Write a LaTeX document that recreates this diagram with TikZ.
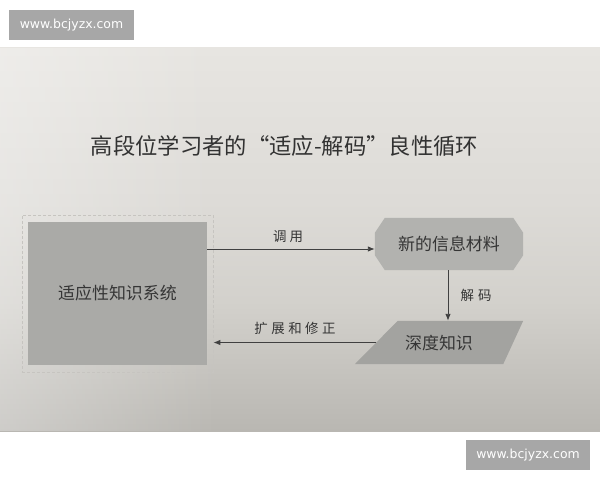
\documentclass[tikz,border=0pt]{standalone}
\usepackage{fontspec}
\newfontfamily\cjk{Noto Sans CJK SC}
\newfontfamily\wmfont{DejaVu Sans}
\usetikzlibrary{calc,arrows.meta,fadings}
\definecolor{photoTop}{HTML}{E7E5E1}
\definecolor{photoA}{HTML}{DDDBD7}
\definecolor{photoB}{HTML}{D3D1CC}
\definecolor{photoC}{HTML}{C3C1BC}
\definecolor{photoBot}{HTML}{B9B7B2}
\definecolor{boxA}{HTML}{AAAAA7}
\definecolor{boxB}{HTML}{B2B2AF}
\definecolor{boxC}{HTML}{A3A3A0}
\definecolor{ink}{HTML}{353535}
\definecolor{lineC}{HTML}{404040}
\definecolor{frameC}{HTML}{C6C4C0}
\definecolor{wmC}{HTML}{A7A7A7}
\pgfdeclareverticalshading{photoshade}{100bp}{color(0bp)=(photoBot); color(25bp)=(photoBot); color(31.5bp)=(photoC); color(42bp)=(photoB); color(55bp)=(photoA); color(75bp)=(photoTop); color(100bp)=(photoTop)}
\begin{document}
\begin{tikzpicture}[x=1bp,y=-1bp,
  wm/.style={fill=wmC, text=white, minimum width=124bp, minimum height=30bp, inner sep=0pt, font=\wmfont\fontsize{12.5}{14}\selectfont},
  blk/.style={inner sep=0pt, text=ink, font=\cjk\fontsize{17}{20}\selectfont},
  lbl/.style={inner sep=0pt, text=ink, font=\cjk\fontsize{13.5}{16}\selectfont},
  arr/.style={draw=lineC, line width=0.9bp, -{Latex[length=7bp,width=5.5bp]}}]
\useasboundingbox (0,0) rectangle (600,480);
\fill[white] (0,0) rectangle (600,480);
% photo of the page
\shade[shading=photoshade] (0,48) rectangle (600,431);
\fill[white, path fading=east, fill opacity=0.3] (0,48) rectangle (220,431);
% watermarks
\node[wm] (wm1) at (71.5,25) {www.bcjyzx.com};
\node[wm] (wm2) at (528,455) {www.bcjyzx.com};
% title
\node[inner sep=0pt, text=ink!95!black, font=\cjk\fontsize{22.4}{26}\selectfont] (title) at (284.5,146) {高段位学习者的“适应-解码”良性循环};
% left system
\node[draw=frameC, dash pattern=on 3bp off 2bp, line width=0.8bp, minimum width=191bp, minimum height=157bp, inner sep=0pt] (frame) at (117.5,293.5) {};
\node[blk, fill=boxA, minimum width=179bp, minimum height=143bp] (sys) at (117.5,293.5) {适应性知识系统};
% octagon: new information
\node[blk, minimum width=148bp, minimum height=52bp] (info) at (449,244) {};
\fill[boxB] ($(info.north west)+(10,0)$) -- ($(info.north east)+(-10,0)$) -- ($(info.north east)+(0,15)$) -- ($(info.south east)+(0,-15)$) -- ($(info.south east)+(-10,0)$) -- ($(info.south west)+(10,0)$) -- ($(info.south west)+(0,-15)$) -- ($(info.north west)+(0,15)$) -- cycle;
\node[blk] (infotext) at (info.center) {新的信息材料};
% parallelogram: deep knowledge
\node[blk, minimum width=168bp, minimum height=43bp] (deep) at (439,342.5) {};
\fill[boxC] ($(deep.north west)+(43,0)$) -- (deep.north east) -- ($(deep.south east)+(-20,0)$) -- (deep.south west) -- cycle;
\node[blk] (deeptext) at (439,343) {深度知识};
% connectors
\draw[arr] ($(sys.east)+(0,-44.5)$) -- ($(info.west)+(0,5)$);
\draw[arr] ($(info.south)+(-1,0)$) -- ($(info.south |- deep.north)+(-1,0)$);
\coordinate (d1) at ($(deep.west)+(21.5,0)$);
\draw[arr] (d1) -- (d1 -| frame.east);
% labels
\node[lbl] (l1) at (288,237) {调\hspace{3bp}用};
\node[lbl] (l2) at (476,295) {解\hspace{4bp}码};
\node[lbl] (l3) at (295,328) {扩\hspace{3.5bp}展\hspace{3.5bp}和\hspace{3.5bp}修\hspace{3.5bp}正};
\end{tikzpicture}
\end{document}
